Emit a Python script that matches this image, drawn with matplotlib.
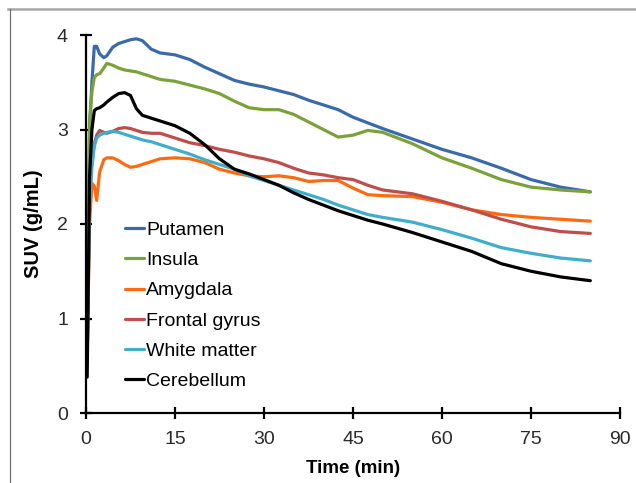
import matplotlib
matplotlib.use("Agg")
from matplotlib import pyplot as plt
from matplotlib.lines import Line2D

# sample times (min)
t = [0.2, 0.6, 1.0, 1.4, 1.8, 2.3, 3, 3.5, 4.5, 5.5, 6.5, 7.5, 8.5, 9.5, 11, 12.5,
     15, 17.5, 20, 22.5, 25, 27.5, 30, 32.5, 35, 37.5, 40, 42.5, 45, 47.5, 50,
     55, 60, 65, 70, 75, 80, 85]

putamen = [1.0, 3.0, 3.5, 3.88, 3.88, 3.80, 3.76, 3.78, 3.87, 3.91, 3.93, 3.95, 3.96, 3.94,
           3.85, 3.81, 3.79, 3.74, 3.66, 3.59, 3.52, 3.48, 3.45, 3.41, 3.37, 3.31, 3.26,
           3.21, 3.13, 3.07, 3.01, 2.90, 2.79, 2.70, 2.59, 2.47, 2.39, 2.34]
insula = [1.0, 3.1, 3.4, 3.55, 3.58, 3.59, 3.65, 3.70, 3.68, 3.65, 3.63, 3.62, 3.61, 3.59,
          3.56, 3.53, 3.51, 3.47, 3.43, 3.38, 3.30, 3.23, 3.21, 3.21, 3.16, 3.08, 3.00,
          2.92, 2.94, 2.99, 2.97, 2.85, 2.70, 2.59, 2.47, 2.39, 2.36, 2.34]
amygdala = [0.6, 2.0, 2.43, 2.40, 2.25, 2.55, 2.68, 2.70, 2.70, 2.67, 2.63, 2.60, 2.61, 2.63,
            2.66, 2.69, 2.70, 2.69, 2.65, 2.58, 2.54, 2.51, 2.50, 2.51, 2.49, 2.45, 2.46,
            2.46, 2.38, 2.31, 2.30, 2.29, 2.23, 2.15, 2.10, 2.07, 2.05, 2.03]
frontal = [0.6, 2.3, 2.7, 2.85, 2.94, 2.99, 2.97, 2.96, 2.98, 3.01, 3.02, 3.01, 2.99, 2.97,
           2.96, 2.96, 2.91, 2.86, 2.83, 2.79, 2.76, 2.72, 2.69, 2.65, 2.59, 2.54, 2.52,
           2.49, 2.47, 2.41, 2.36, 2.32, 2.24, 2.15, 2.05, 1.97, 1.92, 1.90]
white = [0.6, 2.2, 2.6, 2.82, 2.91, 2.94, 2.96, 2.97, 2.98, 2.97, 2.95, 2.93, 2.91, 2.89,
         2.87, 2.84, 2.79, 2.74, 2.68, 2.63, 2.58, 2.51, 2.46, 2.41, 2.36, 2.31, 2.26,
         2.20, 2.15, 2.10, 2.07, 2.02, 1.94, 1.85, 1.75, 1.69, 1.64, 1.61]
cerebellum = [0.38, 2.5, 3.0, 3.2, 3.22, 3.23, 3.26, 3.29, 3.34, 3.38, 3.39, 3.36, 3.22, 3.15,
              3.12, 3.09, 3.04, 2.96, 2.84, 2.69, 2.58, 2.53, 2.47, 2.41, 2.33, 2.26, 2.20,
              2.14, 2.09, 2.04, 2.00, 1.91, 1.81, 1.71, 1.58, 1.50, 1.44, 1.40]

names = ["Putamen", "Insula", "Amygdala", "Frontal gyrus", "White matter", "Cerebellum"]
colors = ["#3A6BA8", "#7BA13A", "#FF6A10", "#BF4D4A", "#40AECB", "#000000"]

plt.rcParams['font.family'] = ['Liberation Sans', 'DejaVu Sans']

fig = plt.figure(figsize=(6.36, 4.83), dpi=100)
ax = fig.add_axes([86 / 636, 70 / 483, 534 / 636, 378 / 483])

series = [putamen, insula, amygdala, frontal, white, cerebellum]
for vals, name, c in zip(series, names, colors):
    ax.plot(t, vals, color=c, lw=2.3, label=name, solid_capstyle='round')

ax.set_xlim(0, 90)
ax.set_ylim(0, 4)
ax.set_xticks(range(0, 91, 15))
ax.set_yticks(range(0, 5))
for s in ['top', 'right']:
    ax.spines[s].set_visible(False)
for s in ['left', 'bottom']:
    ax.spines[s].set_linewidth(1.6)
ax.tick_params(direction='inout', length=8, width=1.6, labelsize=14,
               labelcolor='#2a2a2a')
ax.tick_params(axis='y', pad=9)
ax.tick_params(axis='x', pad=9)

ax.set_xlabel('Time (min)', fontsize=13.5, fontweight='bold')
ax.xaxis.set_label_coords(0.5, -0.125)
ax.set_ylabel('SUV (g/mL)', fontsize=14.5, fontweight='bold')
ax.yaxis.set_label_coords(-0.0805, 0.5)

leg = ax.legend(loc='upper left', bbox_to_anchor=(0.073, 0.507), frameon=False,
                fontsize=14, handlelength=1.0, handletextpad=0.1,
                labelspacing=0.65, borderpad=0, borderaxespad=0)
for h in leg.get_lines():
    h.set_linewidth(2.3)

# gray frame lines (top and left) around the figure
fig.add_artist(Line2D([8 / 636, 1], [1 - 8.5 / 483, 1 - 8.5 / 483],
                      color='#A8A8A8', lw=1.8, transform=fig.transFigure))
fig.add_artist(Line2D([10 / 636, 10 / 636], [0, 1 - 8.5 / 483],
                      color='#707070', lw=0.9, transform=fig.transFigure))

fig.savefig('out.png', dpi=100)
